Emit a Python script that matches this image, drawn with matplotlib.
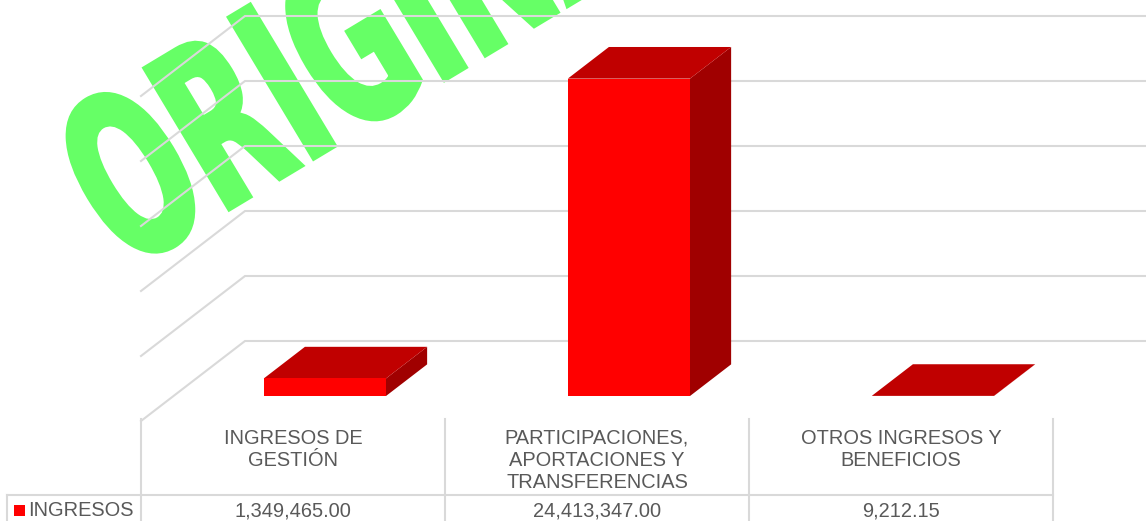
import matplotlib
matplotlib.use('Agg')
import matplotlib.pyplot as plt
from matplotlib.font_manager import FontProperties
from matplotlib.patches import PathPatch
from matplotlib.textpath import TextPath
from matplotlib.transforms import Affine2D

# datos
categorias = ['INGRESOS DE\nGESTIÓN', 'PARTICIPACIONES,\nAPORTACIONES Y\nTRANSFERENCIAS', 'OTROS INGRESOS Y\nBENEFICIOS']
ingresos = [1349465.00, 24413347.00, 9212.15]
serie = 'INGRESOS'
ticks = [0, 5000000, 10000000, 15000000, 20000000, 25000000]

W, H = 1146, 521
GRIS = '#D9D9D9'
TEXTO = '#595959'
PX_X = 1 / 304       # categorias por pixel
PX_Y = 5000000 / 65  # valor por pixel
Y0 = 421             # pixel del valor 0, plano frontal
DX, DY = 104 * PX_X, 80 * PX_Y  # fondo del piso 3d

plt.rcParams['font.family'] = ['Liberation Sans', 'DejaVu Sans']
fig = plt.figure(figsize=(W / 100, H / 100), dpi=100)
ax = fig.add_axes([0, 0, 1, 1])
ax.set_xlim(-141 * PX_X, (W - 141) * PX_X)
ax.set_ylim((Y0 - H) * PX_Y, Y0 * PX_Y)
ax.axis('off')


def p(x, v, d=0):
    return x + d * DX, v + d * DY


def py(pixel):
    return (Y0 - pixel) * PX_Y


# marca de agua
fuente = FontProperties(family='DejaVu Sans', weight='bold')
tp = TextPath((0, 0), 'ORIGINAL', size=100, prop=fuente)
tr = Affine2D().scale(1.28, 2.25).rotate_deg(31).translate(126, H - 271)
ax.add_patch(PathPatch(tp, transform=tr, facecolor='#66FF66', edgecolor='#66FF66', lw=3.5, zorder=1, clip_on=True, joinstyle='miter'))

# paredes
for v in ticks:
    xs, ys = zip(p(0, v), p(0, v, 1), p(3.2, v, 1))
    ax.plot(xs, ys, color=GRIS, lw=1.5, zorder=2, solid_joinstyle='miter')

# barras 3d
d1, d2 = 0.3125, 0.708
for i, v in enumerate(ingresos):
    a, b = i + 0.297, i + 0.699
    frente = [p(a, 0, d1), p(b, 0, d1), p(b, v, d1), p(a, v, d1)]
    arriba = [p(a, v, d1), p(b, v, d1), p(b, v, d2), p(a, v, d2)]
    lado = [p(b, 0, d1), p(b, 0, d2), p(b, v, d2), p(b, v, d1)]
    ax.fill(*zip(*lado), color='#A00000', lw=0, zorder=3)
    ax.fill(*zip(*arriba), color='#C00000', lw=0, zorder=3)
    ax.fill(*zip(*frente), color='#FF0000', lw=0, zorder=4)

# tabla de datos
for i in range(len(categorias) + 1):
    ax.plot([i, i], [py(419), py(H + 2)], color=GRIS, lw=1.5, zorder=2)
ax.plot([-134 * PX_X, 3], [py(494.5), py(494.5)], color=GRIS, lw=1.5, zorder=2)
ax.plot([-134 * PX_X, -134 * PX_X], [py(494.5), py(H + 2)], color=GRIS, lw=1.5, zorder=2)

for i, c in enumerate(categorias):
    ax.text(i + 0.5, py(429), c, ha='center', va='top', fontsize=14.4, color=TEXTO, linespacing=1.2)
    ax.text(i + 0.5, py(511), f'{ingresos[i]:,.2f}', ha='center', va='center', fontsize=14.4, color=TEXTO)

ax.fill([-127 * PX_X, -116 * PX_X, -116 * PX_X, -127 * PX_X], [py(516), py(516), py(505), py(505)], color='#FF0000', lw=0)
ax.text(-113 * PX_X, py(511), serie, ha='left', va='center', fontsize=14.4, color=TEXTO)

fig.savefig('out.png', dpi=100)
